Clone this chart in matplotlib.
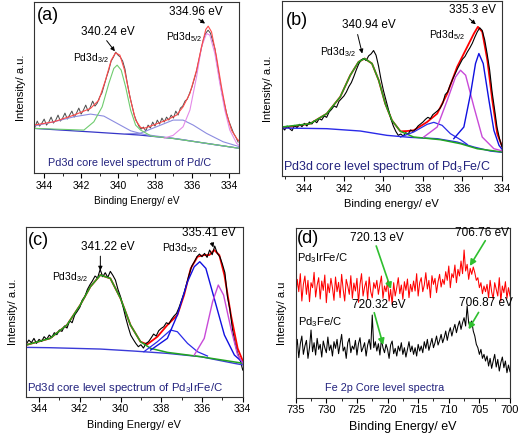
import numpy as np
import matplotlib
matplotlib.use("Agg")
import matplotlib.pyplot as plt
from matplotlib.ticker import MultipleLocator

plt.rcParams['font.family'] = ['Liberation Sans', 'DejaVu Sans']
plt.rcParams['mathtext.fontset'] = 'custom'
plt.rcParams['mathtext.rm'] = 'Liberation Sans'
plt.rcParams['mathtext.it'] = 'Liberation Sans'

NAVY = '#23237e'

# -----------------------------
# (a) Pd/C  -- energies (eV) and intensities (a.u.)
# -----------------------------
A_BG_E = [344.56, 341.58, 338.82, 337.02, 335.21, 333.41]
A_BG_I = [44.7, 41.3, 38.0, 34.7, 29.7, 24.7]
A_BROAD1_E = [344.56, 343.48, 342.39, 341.49, 340.77, 340.05, 339.32, 338.60, 337.5, 336.5, 335.2, 333.41]
A_BROAD1_I = [47, 51.3, 56.3, 59, 57, 49.7, 42.3, 38.7, 36, 33.5, 29.5, 24.7]
A_BROAD2_E = [339.6, 338.82, 337.92, 337.02, 336.48, 335.93, 335.21, 334.31, 333.41]
A_BROAD2_I = [39.5, 39.7, 46.3, 53, 53, 48, 39.7, 31.3, 26.3]
A_GREEN_E = [344.56, 341.85, 341.31, 340.86, 340.50, 340.23, 340.05, 339.83, 339.59, 339.32, 339.05, 338.78, 338.2, 337.0, 335.2, 333.41]
A_GREEN_I = [44.7, 43.0, 51.3, 66.3, 89.7, 104.7, 108, 103, 86.3, 63, 48, 43, 37, 34.5, 29.7, 24.7]
A_PINK_E = [337.5, 337.02, 336.48, 336.11, 335.75, 335.48, 335.21, 335.03, 334.76, 334.49, 334.22, 333.95, 333.58, 333.41]
A_PINK_I = [35, 37.7, 46.3, 63, 96.3, 126.3, 139.7, 138, 119.7, 89.7, 63, 43, 29.7, 27]
A_FIT_E = [344.56, 343.48, 342.39, 341.49, 341.04, 340.68, 340.37, 340.14, 339.90, 339.65, 339.32, 339.05, 338.78,
           338.60, 338.10, 337.37, 336.83, 336.48, 336.11, 335.75, 335.48, 335.25, 335.12, 334.94, 334.67, 334.40,
           334.13, 333.86, 333.58, 333.41]
A_FIT_I = [48, 51.3, 58, 64.7, 73, 93, 113, 120.3, 118, 103, 73, 53, 45.7, 44.7, 48, 53, 58, 66.3, 79.7, 103, 126.3,
           143.7, 147, 141.3, 116.3, 86.3, 59.7, 43, 34.7, 31.3]
A_RAW_I = [46, 52, 47, 50, 54, 48, 51, 56, 50, 53, 58, 52, 55, 60, 54, 58, 62, 56, 60, 65, 59, 63, 68, 62, 66, 72,
           67, 70, 76, 80, 88, 96, 103, 112, 116, 121, 118, 116, 112, 104, 90, 78, 68, 58, 52, 47, 44, 46, 42, 48,
           45, 51, 47, 53, 49, 55, 51, 56, 53, 58, 55, 62, 58, 65, 67, 72, 74, 80, 86, 94, 102, 113, 124, 134, 140,
           143, 140, 132, 124, 108, 94, 80, 70, 60, 52, 46, 40, 36, 31]

# -----------------------------
# (b) Pd3Fe/C
# -----------------------------
B_BG_E = [345.15, 342.87, 341.17, 339.82, 338.64, 337.28, 336.27, 335.42, 334.58, 333.95]
B_BG_I = [144, 142, 135, 122, 116, 112, 102, 87, 75, 71]
B_GREEN_E = [345.15, 343.71, 342.87, 342.19, 341.68, 341.26, 340.95, 340.58, 340.24, 339.91, 339.57, 339.14, 338.47,
             337.11, 336.10, 335.25, 333.95]
B_GREEN_I = [147, 157, 187, 237, 302, 342, 352, 337, 287, 217, 167, 134, 117, 109, 97, 82, 72]
B_BLUE1_E = [339.14, 338.47, 337.79, 337.45, 337.03, 336.61, 336.10, 335.76]
B_BLUE1_I = [117, 132, 155, 161, 152, 127, 109, 95]
B_MAG_E = [337.96, 337.28, 336.77, 336.35, 336.10, 335.84, 335.42, 335.00, 334.41, 333.95]
B_MAG_I = [117, 147, 227, 297, 317, 302, 207, 117, 82, 75]
B_BLUE2_E = [336.44, 335.93, 335.59, 335.34, 335.17, 334.95, 334.66, 334.41, 334.15, 333.95]
B_BLUE2_I = [112, 147, 247, 337, 367, 337, 227, 137, 92, 77]
B_FIT_E = [345.15, 343.71, 342.87, 342.19, 341.68, 341.26, 340.95, 340.58, 340.24, 339.91, 339.57, 339.14, 338.81,
           338.47, 337.79, 337.28, 336.77, 336.27, 335.76, 335.42, 335.22, 335.00, 334.74, 334.49, 334.24, 333.95]
B_FIT_I = [144, 157, 187, 237, 302, 342, 352, 337, 287, 217, 167, 134, 135, 137, 162, 187, 247, 327, 387, 427, 447,
           432, 347, 227, 127, 82]
B_RAW_I = [146, 138, 150, 142, 136, 152, 145, 155, 148, 158, 150, 162, 156, 166, 160, 172, 168, 180, 176, 192, 200,
           210, 206, 224, 232, 240, 252, 268, 280, 298, 318, 336, 348, 352, 346, 360, 366, 376, 362, 330, 290, 256,
           228, 200, 172, 150, 134, 122, 126, 120, 130, 126, 138, 134, 140, 150, 156, 162, 170, 176, 172, 184, 190,
           196, 204, 218, 244, 252, 272, 290, 306, 322, 336, 350, 358, 372, 384, 398, 416, 432, 444, 436, 408, 366,
           318, 252, 200, 146, 112, 88]

# -----------------------------
# (c) Pd3IrFe/C
# -----------------------------
C_BG_E = [344.64, 343.46, 340.99, 339.35, 337.70, 336.06, 334.41, 333.95]
C_BG_I = [148, 147, 143, 137, 130, 120, 100, 95]
C_GREEN_E = [344.64, 343.46, 342.63, 341.98, 341.48, 340.99, 340.50, 340.00, 339.51, 339.02, 338.52, 337.70, 336.06,
             333.95]
C_GREEN_I = [155, 175, 215, 275, 330, 365, 355, 295, 215, 165, 145, 133, 120, 100]
C_BLUE1_E = [338.85, 338.19, 337.54, 337.21, 336.71, 336.22, 335.73]
C_BLUE1_I = [135, 165, 200, 195, 160, 135, 122]
C_BLUE2_E = [338.52, 337.70, 337.21, 336.71, 336.38, 336.11, 335.81, 335.40, 334.90, 334.41, 333.95]
C_BLUE2_I = [140, 175, 245, 345, 390, 405, 385, 295, 185, 125, 100]
C_MAG_E = [336.38, 335.89, 335.48, 335.20, 334.94, 334.58, 334.25, 333.95]
C_MAG_I = [125, 175, 285, 335, 305, 205, 125, 97]
C_FIT_E = [344.64, 343.46, 342.63, 341.98, 341.48, 340.99, 340.50, 340.00, 339.51, 339.02, 338.69, 338.19, 337.70,
           337.21, 336.88, 336.55, 336.22, 335.89, 335.64, 335.40, 335.15, 334.90, 334.58, 334.25, 333.95]
C_FIT_I = [155, 175, 215, 275, 330, 365, 355, 295, 215, 165, 157, 180, 215, 245, 305, 385, 420, 425, 425, 440, 425,
           365, 245, 145, 100]
C_RAW_I = [158, 170, 162, 175, 160, 172, 166, 180, 172, 185, 178, 192, 186, 200, 196, 212, 206, 228, 222, 245, 256,
           268, 290, 300, 322, 336, 348, 362, 356, 382, 360, 372, 358, 376, 364, 350, 322, 300, 270, 238, 210, 185,
           172, 160, 150, 156, 146, 160, 165, 176, 188, 182, 198, 205, 210, 222, 218, 232, 242, 250, 268, 290, 312,
           340, 368, 392, 405, 420, 428, 420, 430, 418, 440, 426, 452, 430, 420, 398, 372, 300, 260, 200, 160, 130,
           110, 80]

# -----------------------------
# (d) Fe 2p
# -----------------------------
D_IRFE_I = [300, 355, 318, 372, 290, 340, 365, 310, 352, 288, 345, 330, 376, 302, 338, 360, 296, 350, 322, 368, 285,
            342, 315, 358, 330, 292, 362, 318, 346, 300, 370, 325, 290, 355, 335, 310, 366, 298, 344, 320, 358, 286,
            340, 372, 305, 332, 350, 295, 362, 318, 300, 345, 328,
            352, 310, 340, 365, 298, 335, 318, 350, 290, 325, 280, 345, 305, 330, 360, 312, 338, 295, 348, 322, 356,
            300, 340, 318,
            350, 320, 372, 305, 345, 360, 318, 338, 375, 326, 352, 300, 366, 340, 358, 315, 348, 370, 332, 355,
            340, 378, 352, 395, 330, 372, 360, 398, 345, 385, 365, 410, 372, 443, 380, 400, 355, 388, 370, 392,
            375, 352, 360, 330, 345, 312, 335, 318,
            340, 300, 352, 318, 296, 345, 325, 305, 360, 290, 335, 315, 348, 298, 330, 305]
D_FE_I = [140, 175, 120, 162, 185, 130, 155, 172, 118, 150, 203, 138, 165, 128, 178, 145, 160, 122, 170, 150, 135,
          182, 142, 158, 125, 168, 148, 175, 132, 160, 190, 140, 152, 118, 165, 178, 135, 155, 145, 172, 128, 162,
          180, 138, 150, 165, 125, 158, 175, 145, 248, 150, 168,
          140, 162, 128, 175, 150, 135, 160, 145, 118, 158, 170, 132, 148, 125, 155, 140, 165, 130, 150, 122, 145,
          168, 138, 155,
          130, 150, 125, 160, 140, 155, 135, 168, 148, 175, 142, 160, 178, 150, 165, 185, 158, 172, 190, 165,
          180, 200, 172, 195, 210, 185, 205, 220, 195, 215, 230, 205, 225, 240, 215, 275, 225, 210, 230, 200,
          185, 160, 150, 130, 145, 118, 130, 110,
          125, 95, 118, 88, 110, 130, 92, 115, 80, 105, 122, 90, 110, 75, 98, 78]

fig = plt.figure(figsize=(5.21, 4.37), dpi=100)
axa = fig.add_axes([0.0653, 0.604, 0.3935, 0.391])
axb = fig.add_axes([0.5407, 0.597, 0.4228, 0.4005])
axc = fig.add_axes([0.0499, 0.0922, 0.416, 0.389])
axd = fig.add_axes([0.5676, 0.0899, 0.4113, 0.3876])


def style(ax, xlim, ylim, major, minor, xlabel, ylabel, labelsize=8, ticksize=7.5):
    ax.set_xlim(*xlim)
    ax.set_ylim(*ylim)
    ax.xaxis.set_major_locator(MultipleLocator(major))
    ax.xaxis.set_minor_locator(MultipleLocator(minor))
    ax.set_yticks([])
    ax.tick_params(axis='x', which='major', direction='out', length=3.5, width=0.8, labelsize=ticksize, pad=2)
    ax.tick_params(axis='x', which='minor', direction='out', length=2, width=0.6)
    for s in ax.spines.values():
        s.set_linewidth(0.8)
        s.set_color('#333333')
    ax.set_xlabel(xlabel, fontsize=labelsize, labelpad=4)
    ax.set_ylabel(ylabel, fontsize=8, labelpad=6)


def arrow(ax, text_xy, start, end, text, color='black', lw=0.7, head=6):
    ax.text(text_xy[0], text_xy[1], text, fontsize=8.5, ha='center', va='center')
    ax.annotate('', xy=end, xytext=start,
                arrowprops=dict(arrowstyle='-|>', color=color, lw=lw, mutation_scale=head))


# (a)
axa.plot(np.linspace(344.5, 333.5, len(A_RAW_I)), A_RAW_I, color='#4a4a4a', lw=0.7)
axa.plot(A_BG_E, A_BG_I, color='#3535c8', lw=0.9)
axa.plot(A_BROAD1_E, A_BROAD1_I, color='#8c8ce0', lw=0.8)
axa.plot(A_BROAD2_E, A_BROAD2_I, color='#8c8ce0', lw=0.8)
axa.plot(A_GREEN_E, A_GREEN_I, color='#6fcc6f', lw=0.8)
axa.plot(A_PINK_E, A_PINK_I, color='#e48ae8', lw=0.8)
axa.plot(A_FIT_E, A_FIT_I, color='#ff4a4a', lw=0.8)
style(axa, (344.55, 333.45), (0, 171), 2, 1, 'Binding Energy/ eV', 'Intensity/ a.u.', labelsize=7.2)
axa.text(344.38, 158, '(a)', fontsize=13, ha='left', va='center')
arrow(axa, (340.53, 141.3), (340.71, 134.7), (340.08, 119.7), '340.24 eV')
axa.text(342.43, 114.7, r'Pd3d$_{3/2}$', fontsize=7.5, ha='left', va='center')
arrow(axa, (335.8, 161.3), (335.75, 155.7), (335.17, 148), '334.96 eV')
axa.text(337.4, 136.3, r'Pd3d$_{5/2}$', fontsize=7.5, ha='left', va='center')
axa.text(339.36, 9.7, 'Pd3d core level spectrum of Pd/C', fontsize=7.8, ha='center', va='center', color=NAVY)

# (b)
axb.plot(B_FIT_E, B_FIT_I, color='#ff0000', lw=1.3)
axb.plot(np.linspace(345.125, 334.0, len(B_RAW_I)), B_RAW_I, color='black', lw=0.8)
axb.plot(B_BG_E, B_BG_I, color='#2a2ae8', lw=1.0)
axb.plot(B_GREEN_E, B_GREEN_I, color='#22a522', lw=1.1)
axb.plot(B_BLUE1_E, B_BLUE1_I, color='#2a2ae8', lw=0.9)
axb.plot(B_MAG_E, B_MAG_I, color='#c84ad8', lw=1.0)
axb.plot(B_BLUE2_E, B_BLUE2_I, color='#1010e0', lw=1.0)
style(axb, (345.15, 334.0), (0, 524), 2, 1, 'Binding energy/ eV', 'Intensity/ a.u.')
axb.text(344.93, 467, '(b)', fontsize=13, ha='left', va='center')
arrow(axb, (340.75, 452), (341.34, 432), (341.04, 359), '340.94 eV')
axb.text(343.2, 372, r'Pd3d$_{3/2}$', fontsize=7.5, ha='left', va='center')
arrow(axb, (335.47, 497), (335.76, 477), (335.22, 449), '335.3 eV')
axb.text(337.7, 422, r'Pd3d$_{5/2}$', fontsize=7.5, ha='left', va='center')
axb.text(345.07, 27, r'Pd3d core level spectrum of Pd$_3$Fe/C', fontsize=9, ha='left', va='center', color=NAVY)

# (c)
axc.plot(C_FIT_E, C_FIT_I, color='#ff0000', lw=1.3)
axc.plot(np.linspace(344.625, 334.0, len(C_RAW_I)), C_RAW_I, color='black', lw=0.8)
axc.plot(C_BG_E, C_BG_I, color='#3a3ad8', lw=1.0)
axc.plot(C_GREEN_E, C_GREEN_I, color='#22a522', lw=1.1)
axc.plot(C_BLUE1_E, C_BLUE1_I, color='#2a2ae8', lw=0.9)
axc.plot(C_BLUE2_E, C_BLUE2_I, color='#1010e0', lw=1.0)
axc.plot(C_MAG_E, C_MAG_I, color='#c84ad8', lw=1.0)
style(axc, (344.64, 334.0), (0, 510), 2, 1, 'Binding Energy/ eV', 'Intensity/ a.u.', labelsize=7.8)
axc.text(344.53, 470, '(c)', fontsize=13, ha='left', va='center')
arrow(axc, (340.63, 450), (340.99, 430), (340.99, 370), '341.22 eV')
axc.text(343.38, 360, r'Pd3d$_{3/2}$', fontsize=7.5, ha='left', va='center')
arrow(axc, (335.64, 490), (335.56, 470), (335.4, 440), '335.41 eV')
axc.text(337.95, 445, r'Pd3d$_{5/2}$', fontsize=7.5, ha='left', va='center')
axc.text(339.76, 25, r'Pd3d core level spectrum of Pd$_3$IrFe/C', fontsize=8.2, ha='center', va='center', color=NAVY)

# (d)
axd.plot(np.linspace(735, 700, len(D_IRFE_I)), D_IRFE_I, color='#ff0000', lw=0.75)
axd.plot(np.linspace(735, 700, len(D_FE_I)), D_FE_I, color='black', lw=0.75)
style(axd, (735, 700), (0, 508), 5, 2.5, 'Binding Energy/ eV', 'Intensity/ a.u', labelsize=9, ticksize=8)
axd.text(734.8, 478, '(d)', fontsize=13, ha='left', va='center')
GREEN_ARROW = '#2fbf2f'
arrow(axd, (721.7, 478), (722.0, 463), (719.3, 318), '720.13 eV', color=GREEN_ARROW, lw=1.2, head=9)
arrow(axd, (704.6, 493), (703.8, 478), (706.8, 388), '706.76 eV', color=GREEN_ARROW, lw=1.2, head=9)
arrow(axd, (721.5, 278), (722.3, 263), (720.6, 150), '720.32 eV', color=GREEN_ARROW, lw=1.2, head=9)
arrow(axd, (704.0, 283), (704.9, 263), (707.0, 198), '706.87 eV', color=GREEN_ARROW, lw=1.2, head=9)
axd.text(734.8, 418, r'Pd$_3$IrFe/C', fontsize=8, ha='left', va='center')
axd.text(734.6, 226, r'Pd$_3$Fe/C', fontsize=8, ha='left', va='center')
axd.text(720.4, 28, 'Fe 2p Core level spectra', fontsize=7.8, ha='center', va='center', color=NAVY)

fig.savefig('out.png', dpi=100)
